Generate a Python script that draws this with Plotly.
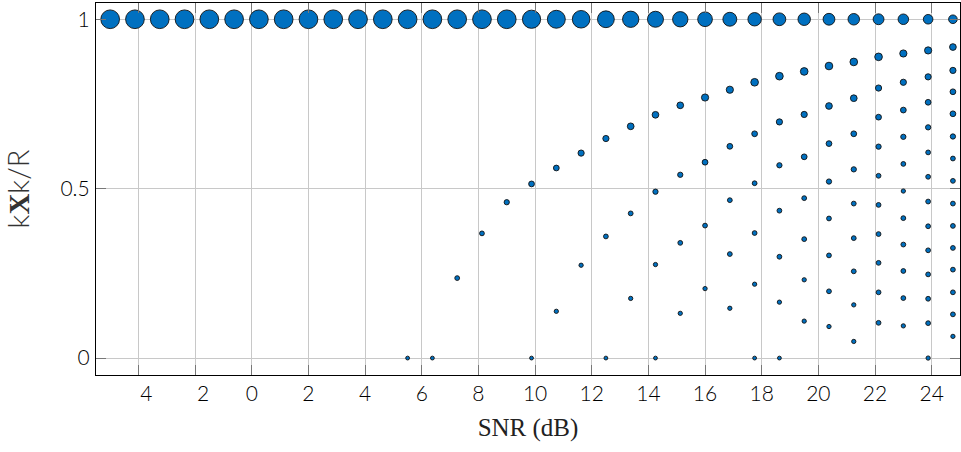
import plotly.graph_objects as go

# SNR (dB) of each column of mass points
snr_db = [-5.0, -4.125, -3.25, -2.375, -1.5, -0.625, 0.25, 1.125, 2.0, 2.875,
          3.75, 4.625, 5.5, 6.375, 7.25, 8.125, 9.0, 9.875, 10.75, 11.625,
          12.5, 13.375, 14.25, 15.125, 16.0, 16.875, 17.75, 18.625, 19.5,
          20.375, 21.25, 22.125, 23.0, 23.875, 24.75]

# normalised radius ||X||/R of each mass point, per SNR column
radius = [
    [1.0], [1.0], [1.0], [1.0], [1.0], [1.0], [1.0], [1.0], [1.0], [1.0], [1.0], [1.0],
    [1.0, 0.0],
    [1.0, 0.0],
    [1.0, 0.236],
    [1.0, 0.368],
    [1.0, 0.460],
    [1.0, 0.514, 0.0],
    [1.0, 0.561, 0.138],
    [1.0, 0.605, 0.274],
    [1.0, 0.648, 0.359, 0.0],
    [1.0, 0.684, 0.427, 0.176],
    [1.0, 0.718, 0.491, 0.276, 0.0],
    [1.0, 0.746, 0.541, 0.340, 0.132],
    [1.0, 0.769, 0.578, 0.391, 0.205],
    [1.0, 0.792, 0.625, 0.466, 0.307, 0.147],
    [1.0, 0.814, 0.662, 0.516, 0.369, 0.218, 0.0],
    [1.0, 0.832, 0.697, 0.569, 0.435, 0.299, 0.165, 0.0],
    [1.0, 0.846, 0.719, 0.594, 0.472, 0.351, 0.231, 0.109],
    [1.0, 0.862, 0.744, 0.633, 0.521, 0.412, 0.303, 0.197, 0.093],
    [1.0, 0.874, 0.767, 0.662, 0.557, 0.456, 0.354, 0.256, 0.157, 0.049],
    [1.0, 0.889, 0.797, 0.711, 0.624, 0.538, 0.452, 0.366, 0.281, 0.194, 0.104],
    [1.0, 0.899, 0.814, 0.732, 0.653, 0.573, 0.493, 0.413, 0.335, 0.257, 0.177, 0.095],
    [1.0, 0.908, 0.830, 0.755, 0.681, 0.607, 0.535, 0.462, 0.389, 0.318, 0.247, 0.175, 0.103, 0.0],
    [1.0, 0.918, 0.849, 0.786, 0.721, 0.654, 0.589, 0.523, 0.456, 0.390, 0.325, 0.261, 0.194, 0.129, 0.064],
]

# probability mass of each point (shown as marker area)
mass = [
    [1.0], [1.0], [1.0], [1.0], [1.0], [1.0], [1.0], [1.0], [1.0], [1.0], [1.0], [1.0],
    [1.0, 0.042],
    [1.0, 0.042],
    [1.0, 0.066],
    [1.0, 0.066],
    [1.0, 0.080],
    [0.949, 0.095, 0.042],
    [0.920, 0.095, 0.053],
    [0.881, 0.111, 0.053],
    [0.805, 0.111, 0.066, 0.042],
    [0.760, 0.129, 0.066, 0.053],
    [0.733, 0.129, 0.080, 0.053, 0.042],
    [0.673, 0.129, 0.080, 0.066, 0.053],
    [0.616, 0.148, 0.095, 0.066, 0.053],
    [0.553, 0.148, 0.095, 0.066, 0.066, 0.053],
    [0.515, 0.168, 0.095, 0.066, 0.066, 0.053, 0.042],
    [0.465, 0.168, 0.111, 0.080, 0.066, 0.066, 0.053, 0.042],
    [0.444, 0.168, 0.111, 0.095, 0.066, 0.066, 0.053, 0.053],
    [0.398, 0.168, 0.129, 0.095, 0.080, 0.066, 0.066, 0.066, 0.053],
    [0.379, 0.168, 0.129, 0.095, 0.080, 0.066, 0.066, 0.066, 0.053, 0.053],
    [0.336, 0.168, 0.111, 0.095, 0.080, 0.066, 0.066, 0.066, 0.066, 0.066, 0.066],
    [0.318, 0.148, 0.111, 0.095, 0.080, 0.066, 0.053, 0.066, 0.066, 0.066, 0.066, 0.053],
    [0.263, 0.148, 0.111, 0.095, 0.080, 0.066, 0.066, 0.066, 0.066, 0.066, 0.066, 0.066, 0.066, 0.053],
    [0.213, 0.129, 0.111, 0.095, 0.095, 0.080, 0.066, 0.066, 0.066, 0.066, 0.066, 0.066, 0.066, 0.066, 0.053],
]

x_tick_values = [-4, -2, 0, 2, 4, 6, 8, 10, 12, 14, 16, 18, 20, 22, 24]
# the negative labels show without their minus glyph (a blank gap stays in its place)
x_tick_labels = ["\u20034", "\u20032", "0", "2", "4", "6", "8", "10", "12", "14", "16", "18", "20", "22", "24"]
y_tick_values = [0, 0.5, 1]
y_tick_labels = ["0", "0.5", "1"]

xs, ys, ms = [], [], []
for s, rs, ps in zip(snr_db, radius, mass):
    for r, p in zip(rs, ps):
        xs.append(s)
        ys.append(r)
        ms.append(p)

fig = go.Figure()
fig.add_trace(go.Scatter(
    x=xs, y=ys, mode="markers",
    marker=dict(size=ms, sizemode="area", sizeref=0.00572, opacity=1,
                color="#0070C0", line=dict(color="#111111", width=0.9)),
    showlegend=False, hoverinfo="x+y",
))

tick_font = dict(family="Lato", size=21, color="#000", weight=300)
fig.update_layout(
    width=961, height=452,
    margin=dict(l=96, r=1, t=3, b=77),
    paper_bgcolor="white", plot_bgcolor="white",
    xaxis=dict(
        range=[-5.5, 25], tickmode="array", tickvals=x_tick_values, ticktext=x_tick_labels,
        showgrid=True, gridcolor="#c8c8c8", gridwidth=1, zeroline=False,
        showline=True, linecolor="black", linewidth=1.3, mirror="ticks",
        ticks="inside", ticklen=10, tickcolor="#777", tickwidth=1,
        tickfont=tick_font,
        title=dict(text="SNR (dB)", font=dict(family="Liberation Serif", size=25, color="#222"),
                   standoff=14),
    ),
    yaxis=dict(
        range=[-0.05, 1.048], tickmode="array", tickvals=y_tick_values, ticktext=y_tick_labels,
        showgrid=True, gridcolor="#c8c8c8", gridwidth=1, zeroline=False,
        showline=True, linecolor="black", linewidth=1.3, mirror="ticks",
        ticks="inside", ticklen=10, tickcolor="#777", tickwidth=1,
        tickfont=tick_font, ticklabelstandoff=1,
        title=dict(text="k<span style=\"font-family:'Liberation Serif';font-weight:bold\">X</span>k/R",
                   font=dict(family="Lato", size=29, color="#333", weight=300), standoff=24),
    ),
)

fig.write_html("out.html")
